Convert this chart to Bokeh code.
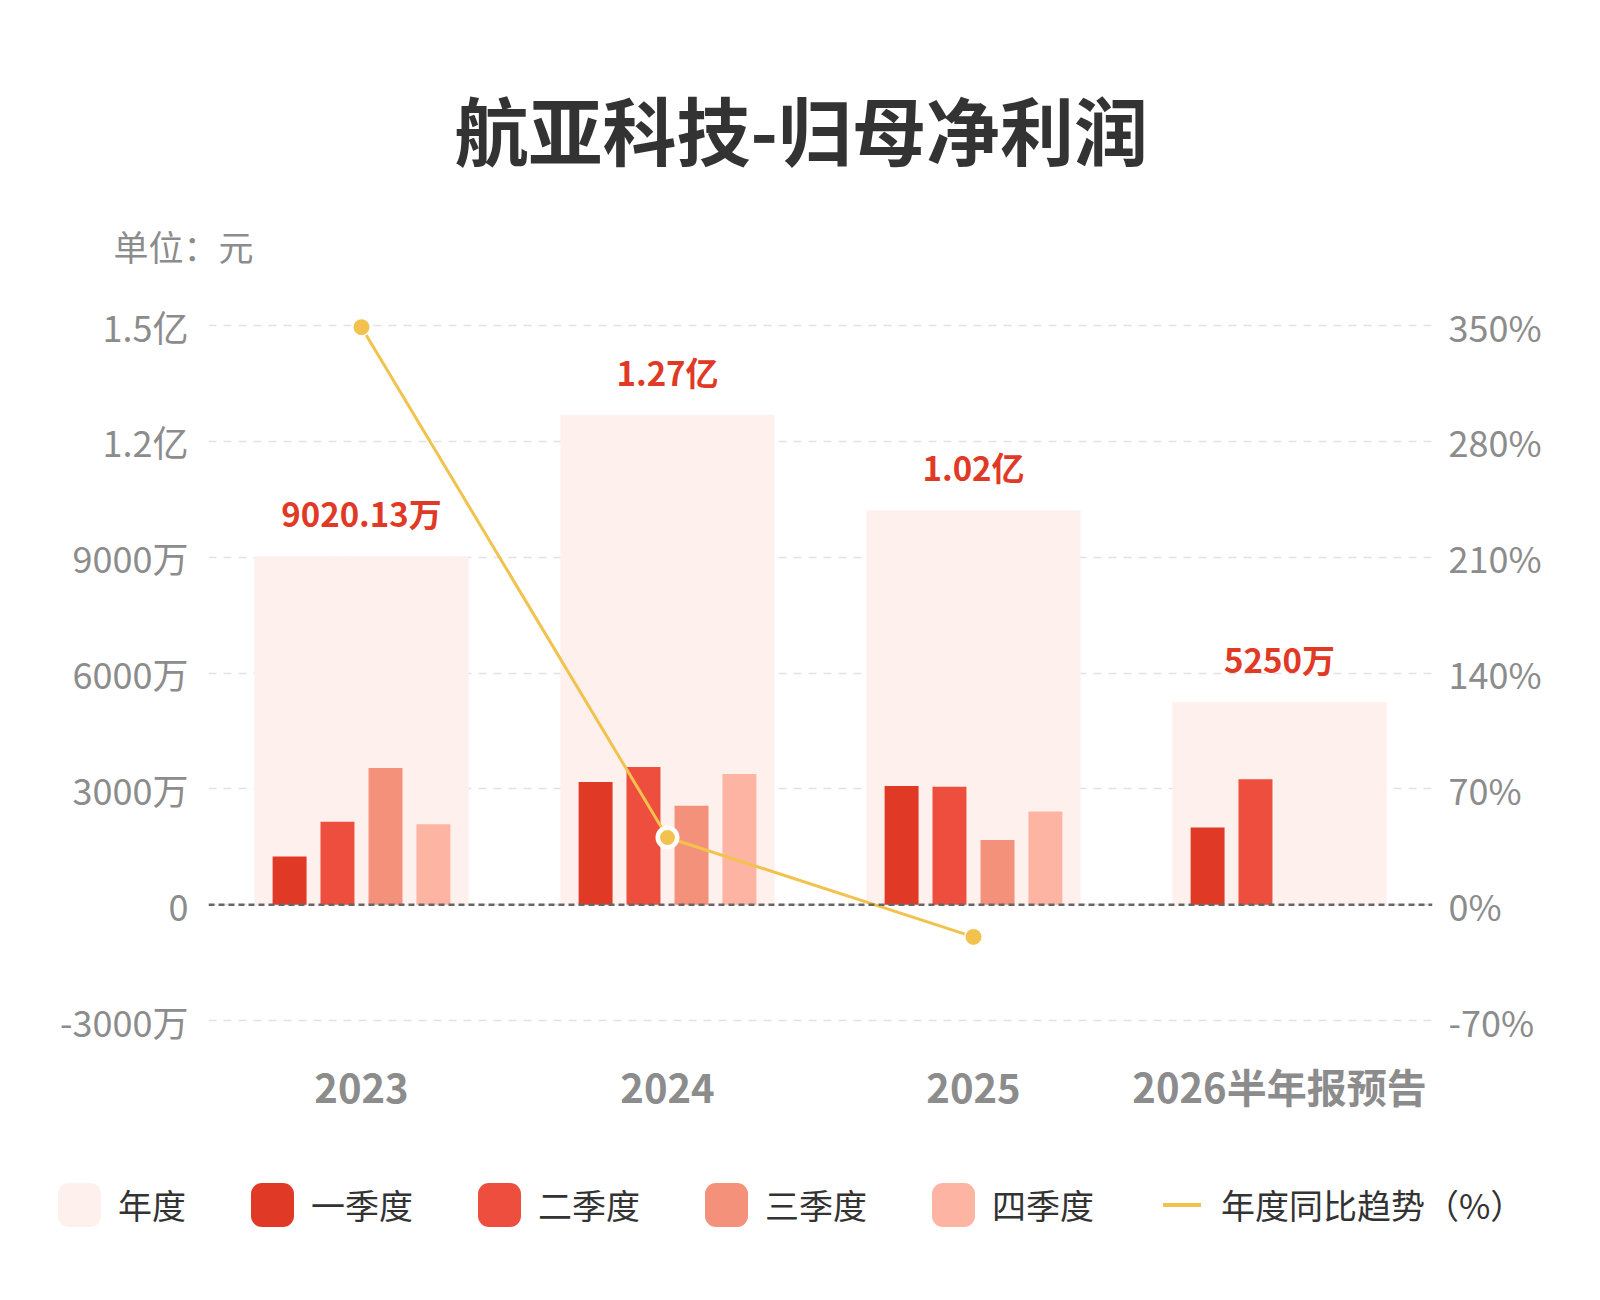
import numpy as np
from bokeh.plotting import figure
from bokeh.layouts import column
from bokeh.models import (ColumnDataSource, FactorRange, Range1d, LinearAxis, Div,
                          Title, Span, FixedTicker, CDSView, IndexFilter)
from bokeh.transform import dodge
from bokeh.core.properties import value
from bokeh.embed import file_html
from bokeh.resources import INLINE

# ---------------- data ----------------
categories = ["2023", "2024", "2025", "2026半年报预告"]
annual = [90201300, 126850000, 102160000, 52500000]
annual_labels = ["9020.13万", "1.27亿", "1.02亿", "5250万"]
q1 = [12500000, 31750000, 30720000, 20010000]
q2 = [21500000, 35640000, 30540000, 32490000]
q3 = [35400000, 25630000, 16740000, None]
q4 = [20800000, 33830000, 24160000, None]
yoy = [349.0, 40.6, -19.5, None]

left_ticks = [-30000000, 0, 30000000, 60000000, 90000000, 120000000, 150000000]
left_tick_labels = ["-3000万", "0", "3000万", "6000万", "9000万", "1.2亿", "1.5亿"]
right_ticks = [-70, 0, 70, 140, 210, 280, 350]
right_tick_labels = ["-70%", "0%", "70%", "140%", "210%", "280%", "350%"]

series_names = ["年度", "一季度", "二季度", "三季度", "四季度", "年度同比趋势（%）"]
title_text = "航亚科技-归母净利润"
unit_text = "单位：元"

# ---------------- styles ----------------
FONT = "Noto Sans CJK SC"
C_ANNUAL = "#FEF0EC"
C_Q = ["#E03A26", "#EE4E3D", "#F4917A", "#FDB4A3"]
C_LINE = "#F3C24E"
C_GRAY = "#8C8C8C"
C_DARK = "#333333"


def nanify(vals):
    return [np.nan if v is None else float(v) for v in vals]


src = ColumnDataSource(dict(
    cat=categories, annual=annual, lab=annual_labels,
    q1=nanify(q1), q2=nanify(q2), q3=nanify(q3), q4=nanify(q4),
))
line_idx = [i for i, v in enumerate(yoy) if v is not None]
line_src = ColumnDataSource(dict(
    cat=[categories[i] for i in line_idx],
    yoy=[yoy[i] for i in line_idx],
))

grid_px = 695
pad_px = 12
lmin, lmax = min(left_ticks), max(left_ticks)
rmin, rmax = min(right_ticks), max(right_ticks)
lpad = (lmax - lmin) * pad_px / grid_px
rpad = (rmax - rmin) * pad_px / grid_px

p = figure(
    x_range=FactorRange(*categories),
    y_range=Range1d(lmin - lpad, lmax + lpad),
    frame_width=1224, frame_height=grid_px + 2 * pad_px,
    min_border_left=208, min_border_right=168,
    min_border_top=313, min_border_bottom=108,
    output_backend="svg", toolbar_location=None,
)
p.extra_y_ranges = {"pct": Range1d(rmin - rpad, rmax + rpad)}
p.outline_line_color = None
p.background_fill_color = "white"
p.border_fill_color = "white"

# bars
p.vbar(x="cat", top="annual", width=0.7, source=src,
       fill_color=C_ANNUAL, line_color=None)
offsets = [-0.235, -0.0785, 0.0785, 0.235]
for key, off, col in zip(["q1", "q2", "q3", "q4"], offsets, C_Q):
    p.vbar(x=dodge("cat", off, range=p.x_range), top=key, width=0.111,
           source=src, fill_color=col, line_color=None)

# zero line
p.add_layout(Span(location=0, dimension="width", line_color="#666666",
                  line_dash="6 4", line_width=2.5))

# yoy line
p.line(x="cat", y="yoy", source=line_src, y_range_name="pct",
       line_color=C_LINE, line_width=3)
p.scatter(x="cat", y="yoy", source=line_src, y_range_name="pct", size=17.5,
          fill_color=C_LINE, line_color="white", line_width=1.5)
# emphasised (hovered) point of the reference
p.scatter(x="cat", y="yoy", source=line_src, y_range_name="pct", size=19.5,
          fill_color=C_LINE, line_color="white", line_width=4.5,
          view=CDSView(filter=IndexFilter([1])))

# data labels
p.text(x="cat", y="annual", text="lab", source=src, text_align="center",
       text_baseline="alphabetic", y_offset=-43,
       text_font=value(FONT), text_font_style="bold", text_font_size="33px",
       text_color="#E03A26")

# axes
yax = p.yaxis[0]
yax.ticker = FixedTicker(ticks=left_ticks)
yax.major_label_overrides = {t: l for t, l in zip(left_ticks, left_tick_labels)}
rax = LinearAxis(y_range_name="pct", ticker=FixedTicker(ticks=right_ticks))
rax.major_label_overrides = {t: l for t, l in zip(right_ticks, right_tick_labels)}
p.add_layout(rax, "right")
for ax, so in ((yax, 20), (rax, 16)):
    ax.axis_line_color = None
    ax.major_tick_line_color = None
    ax.minor_tick_line_color = None
    ax.major_tick_out = 0
    ax.major_label_text_font = FONT
    ax.major_label_text_font_size = "36px"
    ax.major_label_text_color = C_GRAY
    ax.major_label_standoff = so

xax = p.xaxis[0]
xax.axis_line_color = None
xax.major_tick_line_color = None
xax.minor_tick_line_color = None
xax.major_tick_out = 0
xax.major_label_text_font = FONT
xax.major_label_text_font_size = "40px"
xax.major_label_text_font_style = "bold"
xax.major_label_text_color = C_GRAY
xax.major_label_standoff = 24

p.xgrid.visible = False
p.ygrid.ticker = FixedTicker(ticks=left_ticks)
p.ygrid.grid_line_color = "#E2E2E2"
p.ygrid.grid_line_dash = "8 7"
p.ygrid.grid_line_width = 1.5

# unit text and title (above the frame)
p.title = None
p.add_layout(Title(text=unit_text, align="left", offset=-95, standoff=86,
                   text_font=FONT, text_font_size="35px", text_font_style="normal",
                   text_color=C_GRAY), "above")
p.add_layout(Title(text=title_text, align="left", offset=246, standoff=-13,
                   text_font=FONT, text_font_size="74px", text_font_style="bold",
                   text_color=C_DARK), "above")

# ---------------- legend strip (HTML) ----------------
swatch_colors = [C_ANNUAL] + C_Q
parts = []
for i, name in enumerate(series_names):
    if i < len(swatch_colors):
        sw = ('<span style="display:inline-block;width:43px;height:44px;'
              'border-radius:11px;background:%s;margin-right:17px;"></span>'
              % swatch_colors[i])
        gap = 65
    else:
        sw = ('<span style="display:inline-block;width:38px;height:4px;'
              'background:%s;margin-left:4px;margin-right:20px;"></span>' % C_LINE)
        gap = 0
    parts.append('<span style="display:inline-flex;align-items:center;height:44px;'
                 'margin-right:%dpx;">%s<span style="line-height:44px;">%s</span></span>'
                 % (gap, sw, name))
legend_html = ('<div style="display:flex;align-items:flex-start;box-sizing:border-box;'
               'width:1600px;height:160px;padding:43px 0 0 58px;'
               'font-family:\'%s\';font-size:34px;color:%s;white-space:nowrap;">%s</div>'
               % (FONT, C_DARK, "".join(parts)))
legend_div = Div(text=legend_html, width=1600, height=160, margin=0)

layout = column(p, legend_div, spacing=0)
open("out.html", "w").write(file_html(layout, INLINE))
